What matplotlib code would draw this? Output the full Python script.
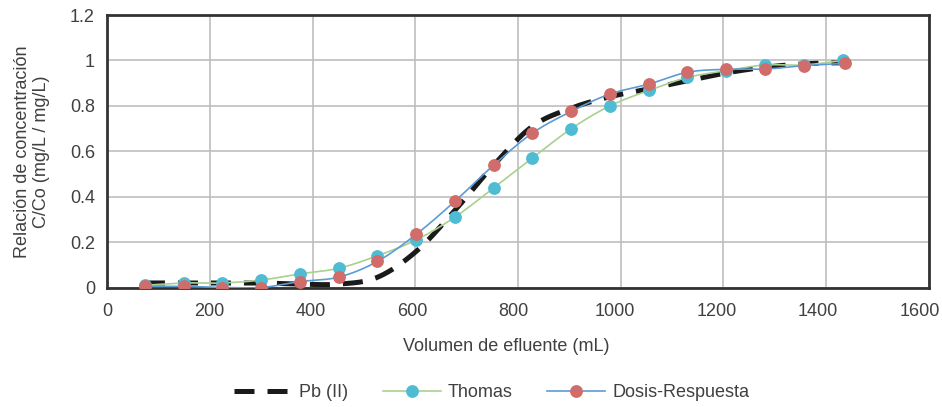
import numpy as np
import matplotlib
matplotlib.use("Agg")
import matplotlib.pyplot as plt
import matplotlib.transforms as mtransforms
from matplotlib.lines import Line2D

plt.rcParams['font.family'] = ['Liberation Sans', 'DejaVu Sans']

# ---- data ----
volumen = [73, 149, 224, 300, 375, 451, 526, 602, 677, 753, 828, 904, 979, 1055, 1130, 1206, 1281, 1357, 1433]
volumen_dr = [73, 149, 224, 300, 375, 451, 526, 602, 677, 753, 828, 904, 979, 1055, 1130, 1206, 1281, 1357, 1438]
pb = [0.02, 0.02, 0.02, 0.02, 0.015, 0.015, 0.045, 0.16, 0.34, 0.54, 0.71, 0.79, 0.84, 0.875, 0.91, 0.945, 0.97, 0.985, 0.99]
thomas = [0.01, 0.02, 0.02, 0.033, 0.06, 0.085, 0.14, 0.21, 0.31, 0.44, 0.57, 0.70, 0.80, 0.868, 0.925, 0.955, 0.98, 0.98, 1.0]
dosis = [0.005, 0.005, 0.0, 0.0, 0.026, 0.046, 0.115, 0.235, 0.38, 0.54, 0.68, 0.776, 0.852, 0.896, 0.948, 0.961, 0.962, 0.977, 0.987]

x_ticks = [0, 200, 400, 600, 800, 1000, 1200, 1400, 1600]
y_ticks = [0, 0.2, 0.4, 0.6, 0.8, 1.0, 1.2]
y_ticklabels = ['0', '0.2', '0.4', '0.6', '0.8', '1', '1.2']


def smooth(x, y, n=20):
    """Excel-like smoothed line (Bezier through the points)."""
    x = np.asarray(x, float)
    y = np.asarray(y, float)
    P = np.column_stack([x, y])
    out = [P[0]]
    for i in range(len(P) - 1):
        p0 = P[i - 1] if i > 0 else P[i]
        p1 = P[i]
        p2 = P[i + 1]
        p3 = P[i + 2] if i + 2 < len(P) else P[i + 1]
        c1 = p1 + (p2 - p0) / 6.0
        c2 = p2 - (p3 - p1) / 6.0
        t = np.linspace(0, 1, n)[1:, None]
        seg = ((1 - t) ** 3) * p1 + 3 * ((1 - t) ** 2) * t * c1 + 3 * (1 - t) * t ** 2 * c2 + t ** 3 * p2
        out.extend(seg)
    out = np.array(out)
    return out[:, 0], out[:, 1]


FS = 13
txt = '#404040'

fig = plt.figure(figsize=(9.42, 4.07), dpi=100)
ax = fig.add_axes([0.1141, 0.2936, 0.8717, 0.6695])

c_pb = '#1a1a1a'
c_th_line = '#A9D18E'
c_th_mark = '#4FBCD4'
c_dr_line = '#5B9BD5'
c_dr_mark = '#D06C6A'
dash = (0, (4.0, 2.6))

xs, ys = smooth(volumen, pb)
ax.plot(xs, ys, color=c_pb, lw=3.6, linestyle=dash, zorder=3, dash_capstyle='butt')

xs, ys = smooth(volumen, thomas)
ax.plot(xs, ys, color=c_th_line, lw=1.2, zorder=4)
ax.plot(volumen, thomas, linestyle='none', marker='o', ms=8.2, color=c_th_mark, mec=c_th_mark, zorder=5)

xs, ys = smooth(volumen_dr, dosis)
ax.plot(xs, ys, color=c_dr_line, lw=1.2, zorder=6)
ax.plot(volumen_dr, dosis, linestyle='none', marker='o', ms=8.2, color=c_dr_mark, mec=c_dr_mark, zorder=7)

ax.set_xlim(0, 1600)
ax.set_ylim(0, 1.2)
ax.set_xticks(x_ticks)
ax.set_yticks(y_ticks)
ax.set_yticklabels(y_ticklabels)
ax.grid(True, color='#BFBFBF', lw=1.2)
ax.set_axisbelow(True)
ax.tick_params(length=0, labelsize=FS, colors=txt)
ax.tick_params(axis='x', pad=11)
ax.tick_params(axis='y', pad=9)
for s in ax.spines.values():
    s.set_color('#333333')
    s.set_linewidth(2)

# Excel places the x tick labels slightly left of the gridlines toward the right end
for lab, xv in zip(ax.get_xticklabels(), x_ticks):
    off = mtransforms.ScaledTranslation(-(xv / 1600.0) * 9 / 100.0, 0, fig.dpi_scale_trans)
    lab.set_transform(lab.get_transform() + off)

ax.set_xlabel('Volumen de efluente (mL)', fontsize=FS, color=txt)
ax.xaxis.set_label_coords(0.486, -0.185)
ax.set_ylabel('Relación de concentración\nC/Co (mg/L / mg/L)', fontsize=FS, color=txt, labelpad=14,
              linespacing=1.15)

handles = [
    Line2D([], [], color=c_pb, lw=3.6, linestyle=dash, dash_capstyle='butt'),
    Line2D([], [], color=c_th_line, lw=1.2, marker='o', ms=8.2, mfc=c_th_mark, mec=c_th_mark),
    Line2D([], [], color=c_dr_line, lw=1.2, marker='o', ms=8.2, mfc=c_dr_mark, mec=c_dr_mark),
]
labels = ['Pb (II)', 'Thomas', 'Dosis-Respuesta']
leg = fig.legend(handles, labels, loc='center', bbox_to_anchor=(0.522, 0.036), ncol=3,
                 frameon=False, fontsize=FS, handlelength=3.2, columnspacing=1.9, handletextpad=0.4)
for t in leg.get_texts():
    t.set_color(txt)

fig.savefig('out.png', dpi=100)
